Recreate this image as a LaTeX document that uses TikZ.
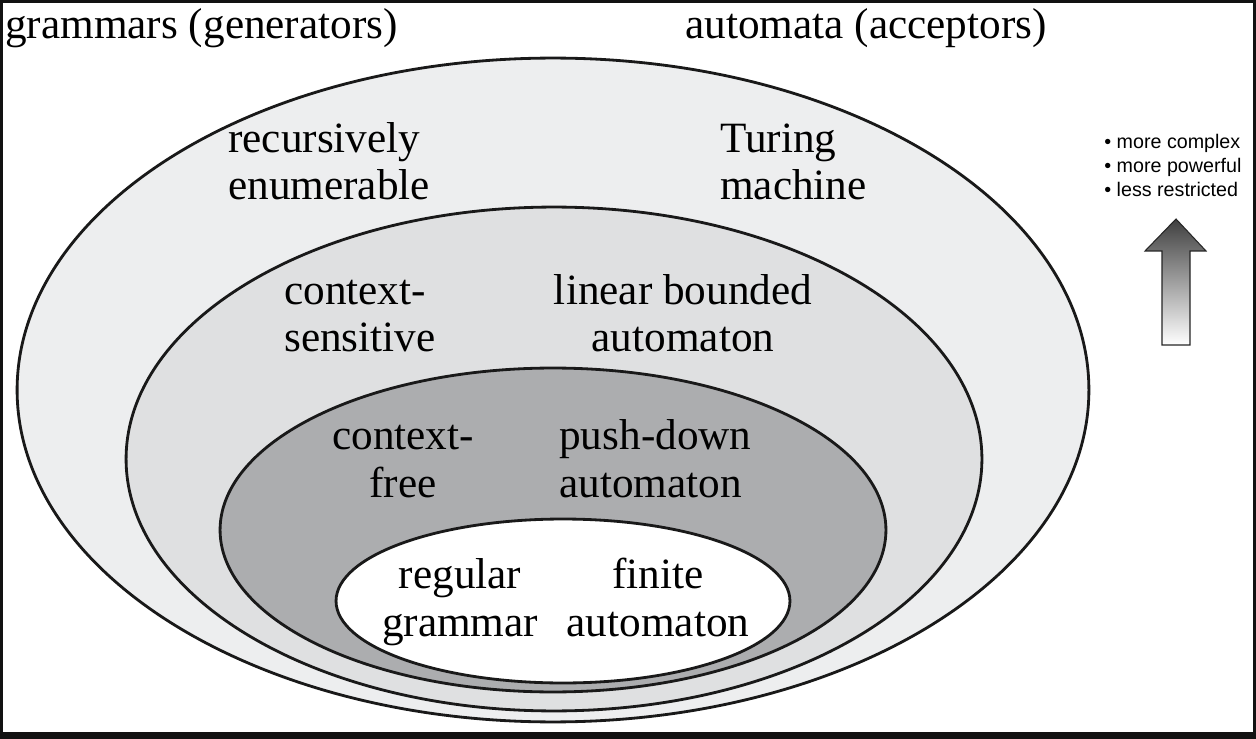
\documentclass[tikz,border=0pt]{standalone}
\usepackage{fontspec}
\setmainfont{Liberation Serif}
\newfontfamily\notefont{Liberation Sans}
\definecolor{reshade}{HTML}{EDEEEF}
\definecolor{csshade}{HTML}{DFE0E1}
\definecolor{cfshade}{HTML}{ACADAF}

\begin{document}
\begin{tikzpicture}[x=0.02cm,y=-0.02cm,
  ring/.style={draw=black!90,line width=1.6pt},
  lbl/.style={inner sep=0,font=\fontsize{24.6}{26.8}\selectfont},
  note/.style={inner sep=0,align=left,font=\notefont\fontsize{11.2}{13.9}\selectfont}]
\fill[black!93] (0,0) rectangle (1256,739);
\fill[white] (3,3) rectangle (1253,732);
\useasboundingbox (0,0) rectangle (1256,739);
% nested language classes
\draw[ring,fill=reshade] (553,390) ellipse [x radius=10.72cm,y radius=6.64cm];
\draw[ring,fill=csshade] (554,459) ellipse [x radius=8.56cm,y radius=5.04cm];
\draw[ring,fill=cfshade] (553,530) ellipse [x radius=6.66cm,y radius=3.24cm];
\draw[ring,fill=white] (563,601) ellipse [x radius=4.54cm,y radius=1.64cm];
\node[lbl,anchor=base west] (gram) at (5,39) {grammars (generators)};
\node[lbl,anchor=base west] (auto) at (685,39) {automata (acceptors)};
% base anchor sits on the last line
\node[lbl,align=left,anchor=base west] (re) at (228,200) {recursively\\enumerable};
\node[lbl,align=left,anchor=base west] (tm) at (720,200) {Turing\\machine};
\node[lbl,align=left,anchor=base west] (cs) at (284,352) {context-\\sensitive};
\node[lbl,align=center,anchor=base] (lba) at (683,352) {linear bounded\\automaton};
\node[lbl,align=center,anchor=base] (cf) at (403,497) {context-\\free};
\node[lbl,align=left,anchor=base west] (pda) at (559,497) {push-down\\automaton};
\node[lbl,align=center,anchor=base] (reg) at (460,636) {regular\\grammar};
\node[lbl,align=center,anchor=base] (fa) at (658,636) {finite\\automaton};
% direction of the hierarchy
\node[note,anchor=base west] (dir) at (1104,197) {\textbullet{} more complex\\\textbullet{} more powerful\\\textbullet{} less restricted};
\shadedraw[draw=black!85,line width=0.6pt,top color=black!75,bottom color=white]
  (1162,345) -- (1162,251) -- (1145,251) -- (1176,219) -- (1206,251) -- (1190,251) -- (1190,345) -- cycle;
\end{tikzpicture}
\end{document}
